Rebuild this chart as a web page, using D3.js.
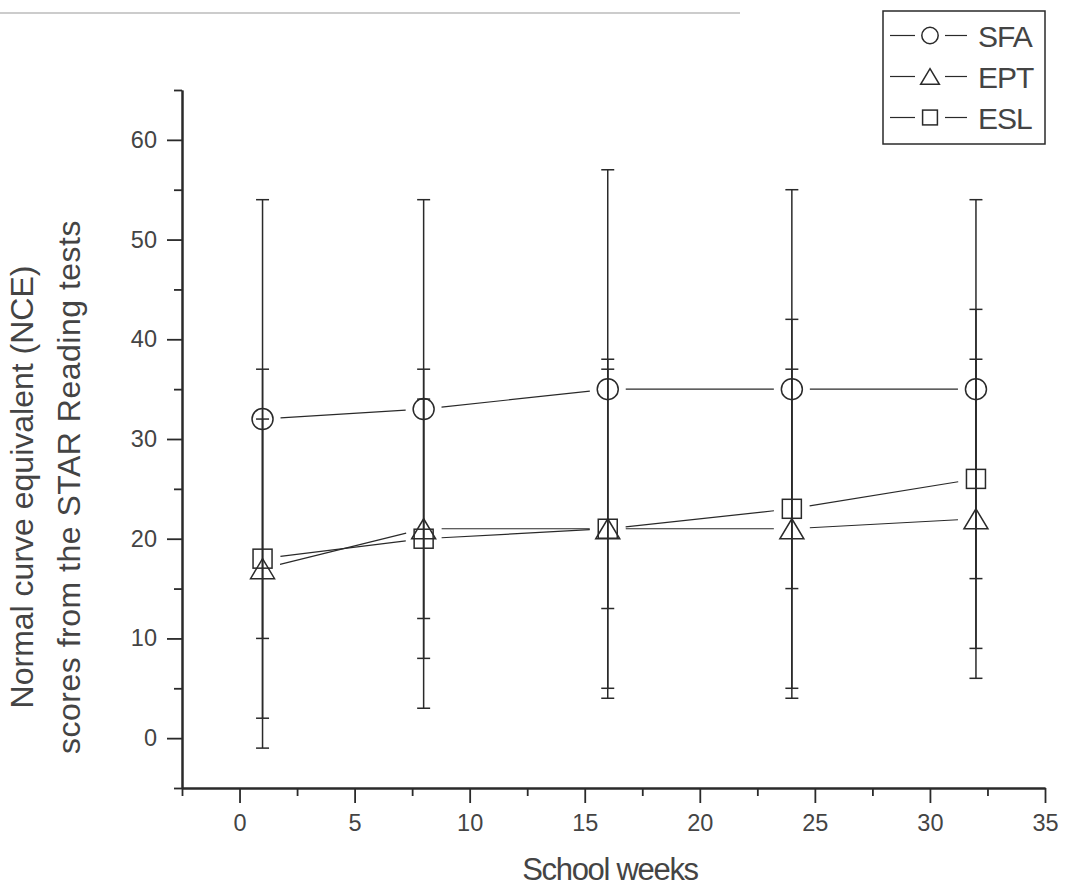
<!DOCTYPE html>
<html>
<head>
<meta charset="utf-8">
<script src="https://cdn.jsdelivr.net/npm/d3@7"></script>
<style>
  body { margin: 0; background: #fff; }
  svg { display: block; }
  text { font-family: "Liberation Sans", Arial, sans-serif; fill: #444; }
</style>
</head>
<body>
<svg id="chart" width="1068" height="887"></svg>
<script>
// data
var weeks = [1, 8, 16, 24, 32];
var sfa = [32, 33, 35, 35, 35];
var sfaErr = [22, 21, 22, 20, 19];
var ept = [17, 21, 21, 21, 22];
var eptErr = [15, 13, 16, 16, 16];
var esl = [18, 20, 21, 23, 26];
var eslErr = [19, 17, 17, 19, 17];
var seriesNames = ["SFA", "EPT", "ESL"];
var seriesShapes = ["circle", "triangle", "square"];

var xTicks = [0, 5, 10, 15, 20, 25, 30, 35];
var xMinor = [-2.5, 2.5, 7.5, 12.5, 17.5, 22.5, 27.5, 32.5];
var yTicks = [0, 10, 20, 30, 40, 50, 60];
var yMinor = [-5, 5, 15, 25, 35, 45, 55, 65];

var series = [
    {name: seriesNames[0], shape: seriesShapes[0], y: sfa, err: sfaErr},
    {name: seriesNames[1], shape: seriesShapes[1], y: ept, err: eptErr},
    {name: seriesNames[2], shape: seriesShapes[2], y: esl, err: eslErr}
];

var ink = "#2a2a2a";
var svg = d3.select("#chart");

// faint scan line at the top of the page
svg.append("line")
    .attr("x1", 0).attr("x2", 740).attr("y1", 13).attr("y2", 13)
    .attr("stroke", "#bbb").attr("stroke-width", 1.5);

var x = d3.scaleLinear().domain([-2.5, 35]).range([182, 1045]);
var y = d3.scaleLinear().domain([-5, 65]).range([788, 90]);

// axes: major ticks with labels, minor ticks without
var xAxis = svg.append("g").attr("transform", "translate(0," + y(-5) + ")")
    .call(d3.axisBottom(x).tickValues(xTicks).tickSize(15).tickPadding(11).tickSizeOuter(0));
var xAxisMinor = svg.append("g").attr("transform", "translate(0," + y(-5) + ")")
    .call(d3.axisBottom(x).tickValues(xMinor).tickSize(8).tickFormat("").tickSizeOuter(0));
var yAxis = svg.append("g").attr("transform", "translate(" + x(-2.5) + ",0)")
    .call(d3.axisLeft(y).tickValues(yTicks).tickSize(15).tickPadding(10).tickSizeOuter(0));
var yAxisMinor = svg.append("g").attr("transform", "translate(" + x(-2.5) + ",0)")
    .call(d3.axisLeft(y).tickValues(yMinor).tickSize(8).tickFormat("").tickSizeOuter(0));

[xAxis, xAxisMinor, yAxis, yAxisMinor].forEach(function (a) {
    a.selectAll("path.domain").attr("stroke", ink).attr("stroke-width", 2);
    a.selectAll(".tick line").attr("stroke", ink).attr("stroke-width", 1.8);
    a.selectAll(".tick text").style("font-size", "23.5px").attr("fill", "#4a4a4a")
        .style("font-family", '"Liberation Sans", Arial, sans-serif');
});

// axis titles
svg.append("text")
    .attr("x", 610).attr("y", 880)
    .attr("text-anchor", "middle")
    .style("font-size", "31px").style("letter-spacing", "-1.3px")
    .text("School weeks");
svg.append("text")
    .attr("transform", "translate(33,487) rotate(-90)")
    .attr("text-anchor", "middle")
    .style("font-size", "32px")
    .text("Normal curve equivalent (NCE)");
svg.append("text")
    .attr("transform", "translate(80,487) rotate(-90)")
    .attr("text-anchor", "middle")
    .style("font-size", "32px").style("letter-spacing", "0.5px")
    .text("scores from the STAR Reading tests");

function drawMarker(g, shape, cx, cy, s) {
    if (shape === "circle") {
        g.append("circle").attr("cx", cx).attr("cy", cy).attr("r", 10.5 * s)
            .attr("fill", "none").attr("stroke", ink).attr("stroke-width", 1.5);
    } else if (shape === "triangle") {
        var hw = 12 * s, hh = 10 * s;
        g.append("path")
            .attr("d", "M" + cx + "," + (cy - hh) + "L" + (cx + hw) + "," + (cy + hh) + "L" + (cx - hw) + "," + (cy + hh) + "Z")
            .attr("fill", "none").attr("stroke", ink).attr("stroke-width", 1.5);
    } else {
        var h = 9.5 * s;
        g.append("rect").attr("x", cx - h).attr("y", cy - h).attr("width", 2 * h).attr("height", 2 * h)
            .attr("fill", "none").attr("stroke", ink).attr("stroke-width", 1.5);
    }
}

var plot = svg.append("g");
var gap = 18; // connecting lines stop short of the markers
series.forEach(function (s) {
    var g = plot.append("g");
    // error bars
    weeks.forEach(function (w, i) {
        var px = x(w), lo = y(s.y[i] - s.err[i]), hi = y(s.y[i] + s.err[i]);
        g.append("line").attr("x1", px).attr("x2", px).attr("y1", lo).attr("y2", hi)
            .attr("stroke", ink).attr("stroke-width", 1.5);
        [lo, hi].forEach(function (cy) {
            g.append("line").attr("x1", px - 6.5).attr("x2", px + 6.5).attr("y1", cy).attr("y2", cy)
                .attr("stroke", ink).attr("stroke-width", 1.5);
        });
    });
    // connecting segments
    for (var i = 0; i < weeks.length - 1; i++) {
        var x1 = x(weeks[i]), y1 = y(s.y[i]), x2 = x(weeks[i + 1]), y2 = y(s.y[i + 1]);
        var len = Math.hypot(x2 - x1, y2 - y1), ux = (x2 - x1) / len, uy = (y2 - y1) / len;
        g.append("line")
            .attr("x1", x1 + ux * gap).attr("y1", y1 + uy * gap)
            .attr("x2", x2 - ux * gap).attr("y2", y2 - uy * gap)
            .attr("stroke", ink).attr("stroke-width", 1.2);
    }
    weeks.forEach(function (w, i) {
        drawMarker(g, s.shape, x(w), y(s.y[i]), 1);
    });
});

// legend
var legend = svg.append("g");
legend.append("rect").attr("x", 883).attr("y", 11).attr("width", 162).attr("height", 133)
    .attr("fill", "#fff").attr("stroke", ink).attr("stroke-width", 1.5);
series.forEach(function (s, i) {
    var cy = 35.5 + i * 41;
    legend.append("line").attr("x1", 890).attr("x2", 915).attr("y1", cy).attr("y2", cy)
        .attr("stroke", ink).attr("stroke-width", 1.2);
    legend.append("line").attr("x1", 945).attr("x2", 967).attr("y1", cy).attr("y2", cy)
        .attr("stroke", ink).attr("stroke-width", 1.2);
    drawMarker(legend, s.shape, 930, cy, 0.78);
    legend.append("text").attr("x", 978).attr("y", cy + 11)
        .style("font-size", "30px").style("letter-spacing", "-1px")
        .text(s.name);
});
</script>
</body>
</html>
